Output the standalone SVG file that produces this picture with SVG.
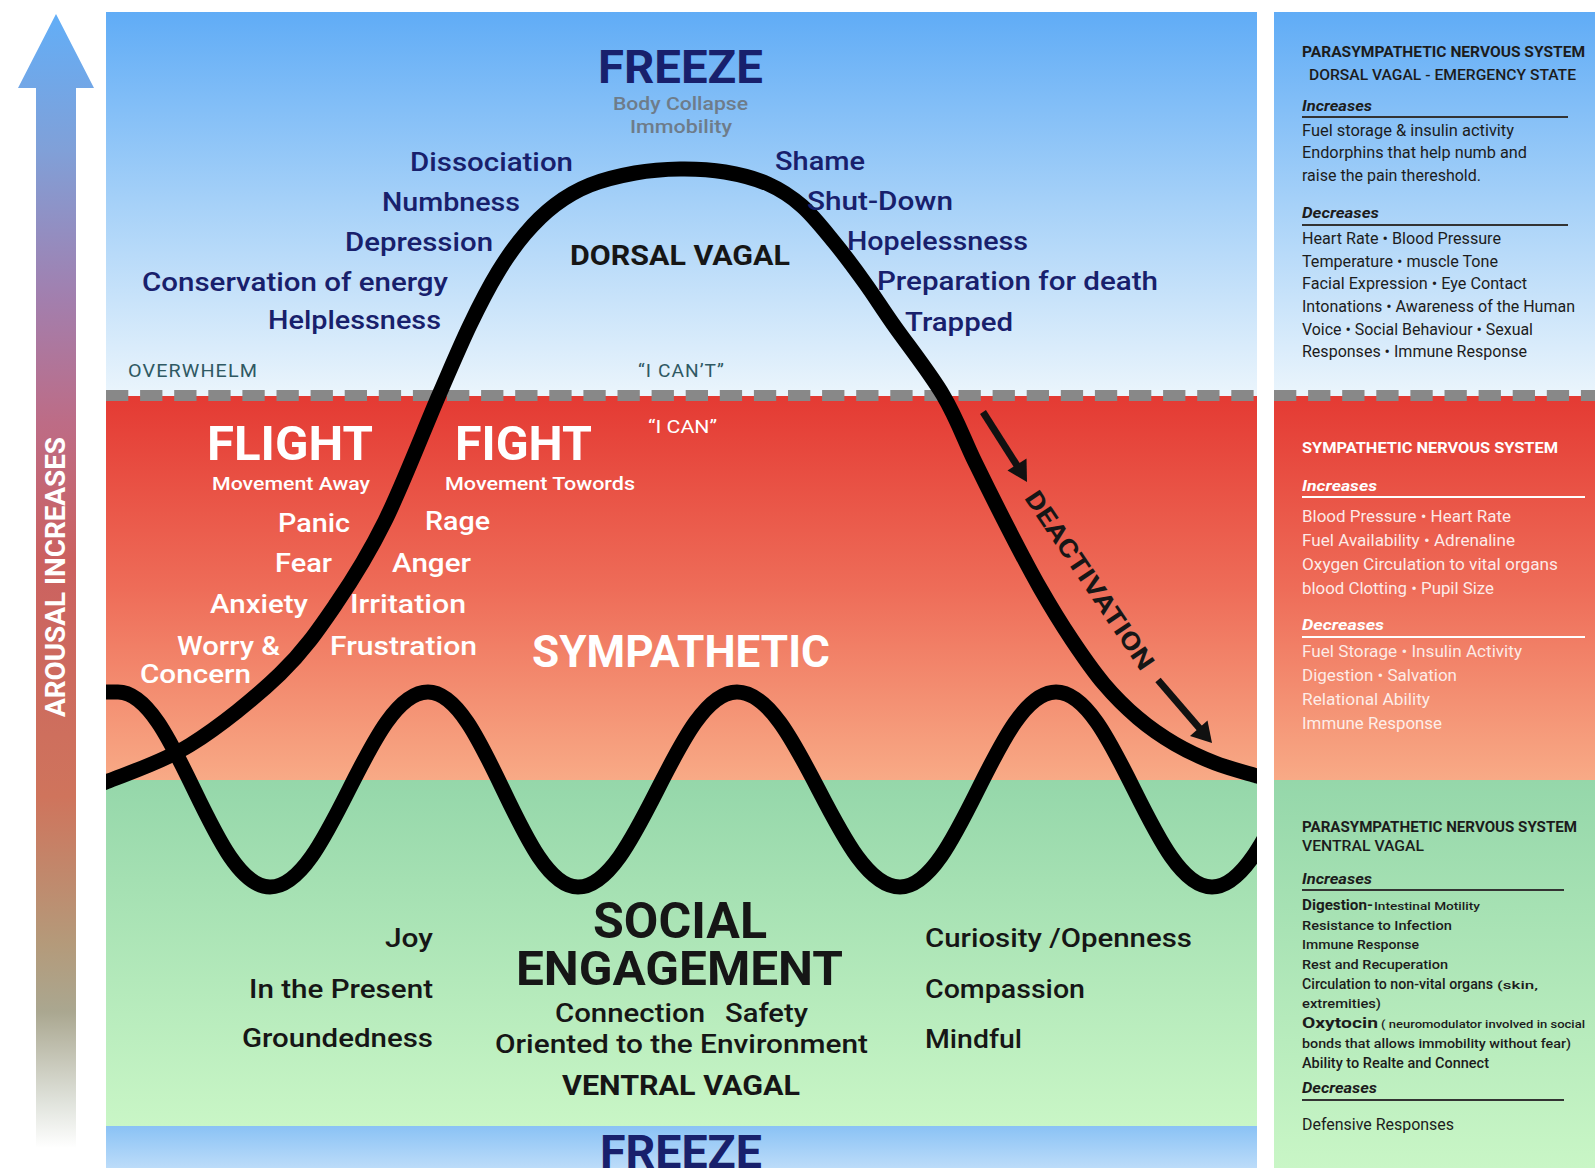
<svg xmlns="http://www.w3.org/2000/svg" width="1595" height="1168" viewBox="0 0 1595 1168">
<defs>
<linearGradient id="gBlue" x1="0" y1="0" x2="0" y2="1"><stop offset="0" stop-color="#60acf6"/><stop offset="0.5" stop-color="#a6d1f8"/><stop offset="1" stop-color="#ebf5fc"/></linearGradient>
<linearGradient id="gRed" x1="0" y1="0" x2="0" y2="1"><stop offset="0" stop-color="#e43a33"/><stop offset="0.5" stop-color="#ee6c58"/><stop offset="1" stop-color="#f8aa86"/></linearGradient>
<linearGradient id="gGreen" x1="0" y1="0" x2="0" y2="1"><stop offset="0" stop-color="#95d7aa"/><stop offset="1" stop-color="#c9f6c6"/></linearGradient>
<linearGradient id="gBlue2" x1="0" y1="0" x2="0" y2="1"><stop offset="0" stop-color="#8ac2f5"/><stop offset="1" stop-color="#bcdcf9"/></linearGradient>
<linearGradient id="gArrow" gradientUnits="userSpaceOnUse" x1="0" y1="14" x2="0" y2="1148">
<stop offset="0" stop-color="#62aef7"/><stop offset="0.12" stop-color="#80a0d8"/><stop offset="0.25" stop-color="#a27fae"/><stop offset="0.36" stop-color="#bd6c86"/><stop offset="0.48" stop-color="#cb6160"/><stop offset="0.69" stop-color="#cf745c"/><stop offset="0.82" stop-color="#b49a7a"/><stop offset="0.88" stop-color="#aaa790"/><stop offset="0.96" stop-color="#e0e3dc"/><stop offset="1" stop-color="#ffffff"/></linearGradient>
<clipPath id="clipMain"><rect x="106" y="12" width="1151" height="1114"/></clipPath>
<style>
.f{font-family:Roboto,"Liberation Sans",Arial,sans-serif}
.navy{fill:#18206c}
.h1{font-size:46px;font-weight:700}
.lst{font-size:26px;font-weight:500}
.sub{font-size:19px;font-weight:500}
.lbl{font-size:18px;font-weight:400;fill:#2f5963;letter-spacing:1px}
.wh{fill:#ffffff}
.dk{fill:#161616}
.bd{font-weight:700}
.rh{font-size:15px;font-weight:700}
.rm{font-size:15px;font-weight:500}
.ri{font-size:14px;font-weight:700;font-style:italic}
.rt{font-size:16px;font-weight:400}
.rs{font-size:12px;font-weight:500}
.curve{fill:none;stroke:#000;stroke-width:15}
.dash{stroke:#888888;stroke-width:11;stroke-dasharray:22.3 11.8}
</style>
</defs>

<g id="background">
<rect x="0" y="0" width="1595" height="1168" fill="#ffffff"/>
<rect x="106" y="12" width="1151" height="384" fill="url(#gBlue)"/>
<rect x="106" y="396" width="1151" height="384" fill="url(#gRed)"/>
<rect x="106" y="780" width="1151" height="346" fill="url(#gGreen)"/>
<rect x="106" y="1126" width="1151" height="42" fill="url(#gBlue2)"/>
<rect x="1274" y="12" width="321" height="384" fill="url(#gBlue)"/>
<rect x="1274" y="396" width="321" height="384" fill="url(#gRed)"/>
<rect x="1274" y="780" width="321" height="388" fill="url(#gGreen)"/>
<line class="dash" x1="106" y1="395.5" x2="1257" y2="395.5"/>
<line class="dash" x1="1274" y1="395.5" x2="1595" y2="395.5"/>
</g>

<g id="arousal-arrow">
<polygon points="56,14 94,88 76,88 76,1148 36,1148 36,88 18,88" fill="url(#gArrow)"/>
<text class="f bd wh" font-size="27" transform="translate(65,577) rotate(-90)" text-anchor="middle" textLength="280" lengthAdjust="spacingAndGlyphs">AROUSAL INCREASES</text>
</g>

<g id="connectors" clip-path="url(#clipMain)">
<path id="dorsal-curve" class="curve" d="M100,784 L106,782 C120,775.8 161,763 190,745 C219,727 255.7,697.5 280,674 C304.3,650.5 318.5,629.5 336,604 C353.5,578.5 367.8,555.8 385,521 C402.2,486.2 424.8,427.7 439,395 C453.2,362.3 460.2,345.5 470,325 C479.8,304.5 488.8,287.2 498,272 C507.2,256.8 515.5,245.2 525,234 C534.5,222.8 544.2,213.2 555,205 C565.8,196.8 576.7,190.3 590,185 C603.3,179.7 620,175.7 635,173 C650,170.3 665,169.2 680,169 C695,168.8 710.3,169.5 725,172 C739.7,174.5 755.2,178.3 768,184 C780.8,189.7 791,196.3 802,206 C813,215.7 823.5,229.2 834,242 C844.5,254.8 855.2,269.3 865,283 C874.8,296.7 880,305.3 893,324 C906,342.7 929.3,372 943,395 C956.7,418 964.2,439.8 975,462 C985.8,484.2 997.2,507 1008,528 C1018.8,549 1029.3,569.3 1040,588 C1050.7,606.7 1061.3,624 1072,640 C1082.7,656 1093,671 1104,684 C1115,697 1126.2,708 1138,718 C1149.8,728 1162.2,736.5 1175,744 C1187.8,751.5 1201.3,757.7 1215,763 C1228.7,768.3 1250,773.8 1257,776 L1272,779"/>
<path id="ventral-wave" class="curve" d="M96,692 L118,692 C176,692 212,887 270,887 C330,887 368,692 428,692 C485,692 521,887 578,887 C638,887 677,692 737,692 C799,692 838,887 900,887 C959,887 997,692 1056,692 C1115,692 1153,887 1212,887 C1271,887 1309,692 1368,692"/>
<g id="deactivation-arrows" fill="#111" stroke="#111">
<line x1="983" y1="412" x2="1018" y2="467" stroke-width="7"/>
<polygon points="1027,482 1007.5,470.5 1026.5,458.5" stroke="none"/>
<line x1="1158" y1="680" x2="1201" y2="730" stroke-width="7"/>
<polygon points="1212,743 1190,736 1207.5,720.5" stroke="none"/>
</g>
</g>

<g id="freeze">
<text class="f h1 navy" x="598" y="83" textLength="165" lengthAdjust="spacingAndGlyphs">FREEZE</text>
<text class="f sub" fill="#6e7c8a" x="613" y="110" textLength="135" lengthAdjust="spacingAndGlyphs">Body Collapse</text>
<text class="f sub" fill="#6e7c8a" x="630" y="133" textLength="102" lengthAdjust="spacingAndGlyphs">Immobility</text>
</g>

<g id="dorsal-left" class="f lst navy">
<text x="410" y="171" textLength="163" lengthAdjust="spacingAndGlyphs">Dissociation</text>
<text x="382" y="211" textLength="138" lengthAdjust="spacingAndGlyphs">Numbness</text>
<text x="345" y="251" textLength="148" lengthAdjust="spacingAndGlyphs">Depression</text>
<text x="142" y="291" textLength="306" lengthAdjust="spacingAndGlyphs">Conservation of energy</text>
<text x="268" y="329" textLength="173" lengthAdjust="spacingAndGlyphs">Helplessness</text>
</g>

<g id="dorsal-right" class="f lst navy">
<text x="775" y="170" textLength="90" lengthAdjust="spacingAndGlyphs">Shame</text>
<text x="807" y="210" textLength="146" lengthAdjust="spacingAndGlyphs">Shut-Down</text>
<text x="847" y="250" textLength="181" lengthAdjust="spacingAndGlyphs">Hopelessness</text>
<text x="877" y="290" textLength="281" lengthAdjust="spacingAndGlyphs">Preparation for death</text>
<text x="905" y="331" textLength="108" lengthAdjust="spacingAndGlyphs">Trapped</text>
</g>

<g id="dorsal-vagal">
<text class="f bd dk" font-size="27" x="570" y="265" textLength="220" lengthAdjust="spacingAndGlyphs">DORSAL VAGAL</text>
</g>

<g id="threshold-labels" class="f lbl">
<text x="128" y="377" textLength="130" lengthAdjust="spacingAndGlyphs">OVERWHELM</text>
<text x="638" y="377" textLength="87" lengthAdjust="spacingAndGlyphs">“I CAN’T”</text>
</g>

<g id="flight" class="f wh">
<text class="bd" font-size="48" x="207" y="460" textLength="166" lengthAdjust="spacingAndGlyphs">FLIGHT</text>
<text class="sub" x="212" y="490" textLength="158" lengthAdjust="spacingAndGlyphs">Movement Away</text>
<g class="lst">
<text x="278" y="532" textLength="72" lengthAdjust="spacingAndGlyphs">Panic</text>
<text x="275" y="572" textLength="57" lengthAdjust="spacingAndGlyphs">Fear</text>
<text x="210" y="613" textLength="98" lengthAdjust="spacingAndGlyphs">Anxiety</text>
<text x="177" y="655" textLength="103" lengthAdjust="spacingAndGlyphs">Worry &amp;</text>
<text x="140" y="683" textLength="111" lengthAdjust="spacingAndGlyphs">Concern</text>
</g>
</g>

<g id="fight" class="f wh">
<text class="bd" font-size="48" x="455" y="460" textLength="137" lengthAdjust="spacingAndGlyphs">FIGHT</text>
<text class="sub" x="445" y="490" textLength="190" lengthAdjust="spacingAndGlyphs">Movement Towords</text>
<g class="lst">
<text x="425" y="530" textLength="65" lengthAdjust="spacingAndGlyphs">Rage</text>
<text x="392" y="572" textLength="79" lengthAdjust="spacingAndGlyphs">Anger</text>
<text x="350" y="613" textLength="116" lengthAdjust="spacingAndGlyphs">Irritation</text>
<text x="330" y="655" textLength="147" lengthAdjust="spacingAndGlyphs">Frustration</text>
</g>
<text font-size="18" x="648" y="433" textLength="69" lengthAdjust="spacingAndGlyphs">“I CAN”</text>
</g>

<g id="sympathetic">
<text class="f bd wh" font-size="44" x="532" y="667" textLength="298" lengthAdjust="spacingAndGlyphs">SYMPATHETIC</text>
</g>

<g id="deactivation">
<text class="f bd dk" font-size="25" transform="translate(1090,580) rotate(56)" y="9" text-anchor="middle" textLength="210" lengthAdjust="spacingAndGlyphs">DEACTIVATION</text>
</g>

<g id="ventral-left" class="f lst dk">
<text x="385" y="947" textLength="48" lengthAdjust="spacingAndGlyphs">Joy</text>
<text x="249" y="998" textLength="184" lengthAdjust="spacingAndGlyphs">In the Present</text>
<text x="242" y="1047" textLength="191" lengthAdjust="spacingAndGlyphs">Groundedness</text>
</g>

<g id="social-engagement" class="f dk">
<text class="bd" font-size="50" x="593" y="938" textLength="174" lengthAdjust="spacingAndGlyphs">SOCIAL</text>
<text class="bd" font-size="48" x="516" y="985" textLength="327" lengthAdjust="spacingAndGlyphs">ENGAGEMENT</text>
<text font-size="25" font-weight="500" x="555" y="1022" textLength="150" lengthAdjust="spacingAndGlyphs">Connection</text>
<text font-size="25" font-weight="500" x="725" y="1022" textLength="83" lengthAdjust="spacingAndGlyphs">Safety</text>
<text font-size="25" font-weight="500" x="495" y="1053" textLength="373" lengthAdjust="spacingAndGlyphs">Oriented to the Environment</text>
<text class="bd" font-size="27" x="562" y="1095" textLength="238" lengthAdjust="spacingAndGlyphs">VENTRAL VAGAL</text>
</g>

<g id="ventral-right" class="f lst dk">
<text x="925" y="947" textLength="267" lengthAdjust="spacingAndGlyphs">Curiosity /Openness</text>
<text x="925" y="998" textLength="160" lengthAdjust="spacingAndGlyphs">Compassion</text>
<text x="925" y="1048" textLength="97" lengthAdjust="spacingAndGlyphs">Mindful</text>
</g>

<g id="freeze-bottom">
<text class="f h1 navy" x="600" y="1168" textLength="162" lengthAdjust="spacingAndGlyphs">FREEZE</text>
</g>

<g id="panel-dorsal" class="f" fill="#1c1c1c">
<text class="rh" x="1302" y="57" textLength="283" lengthAdjust="spacingAndGlyphs">PARASYMPATHETIC NERVOUS SYSTEM</text>
<text class="rm" x="1309" y="80" textLength="267" lengthAdjust="spacingAndGlyphs">DORSAL VAGAL - EMERGENCY STATE</text>
<text class="ri" x="1302" y="111" textLength="70" lengthAdjust="spacingAndGlyphs">Increases</text>
<line x1="1302" y1="117" x2="1568" y2="117" stroke="#333" stroke-width="2"/>
<text class="rt" x="1302" y="136" textLength="212" lengthAdjust="spacingAndGlyphs">Fuel storage &amp; insulin activity</text>
<text class="rt" x="1302" y="158" textLength="225" lengthAdjust="spacingAndGlyphs">Endorphins that help numb and</text>
<text class="rt" x="1302" y="181" textLength="179" lengthAdjust="spacingAndGlyphs">raise the pain thereshold.</text>
<text class="ri" x="1302" y="218" textLength="77" lengthAdjust="spacingAndGlyphs">Decreases</text>
<line x1="1302" y1="225" x2="1568" y2="225" stroke="#333" stroke-width="2"/>
<text class="rt" x="1302" y="244" textLength="199" lengthAdjust="spacingAndGlyphs">Heart Rate • Blood Pressure</text>
<text class="rt" x="1302" y="267" textLength="196" lengthAdjust="spacingAndGlyphs">Temperature • muscle Tone</text>
<text class="rt" x="1302" y="289" textLength="225" lengthAdjust="spacingAndGlyphs">Facial Expression • Eye Contact</text>
<text class="rt" x="1302" y="312" textLength="273" lengthAdjust="spacingAndGlyphs">Intonations • Awareness of the Human</text>
<text class="rt" x="1302" y="335" textLength="231" lengthAdjust="spacingAndGlyphs">Voice • Social Behaviour • Sexual</text>
<text class="rt" x="1302" y="357" textLength="225" lengthAdjust="spacingAndGlyphs">Responses • Immune Response</text>
</g>

<g id="panel-sympathetic" class="f" fill="#ffffff">
<text class="rh" x="1302" y="453" textLength="256" lengthAdjust="spacingAndGlyphs">SYMPATHETIC NERVOUS SYSTEM</text>
<text class="ri" x="1302" y="491" textLength="75" lengthAdjust="spacingAndGlyphs">Increases</text>
<line x1="1302" y1="497" x2="1585" y2="497" stroke="#ffffff" stroke-width="2"/>
<g fill-opacity="0.88">
<text class="rt" x="1302" y="522" textLength="209" lengthAdjust="spacingAndGlyphs">Blood Pressure • Heart Rate</text>
<text class="rt" x="1302" y="546" textLength="213" lengthAdjust="spacingAndGlyphs">Fuel Availability • Adrenaline</text>
<text class="rt" x="1302" y="570" textLength="256" lengthAdjust="spacingAndGlyphs">Oxygen Circulation to vital organs</text>
<text class="rt" x="1302" y="594" textLength="192" lengthAdjust="spacingAndGlyphs">blood Clotting • Pupil Size</text>
</g>
<text class="ri" x="1302" y="630" textLength="82" lengthAdjust="spacingAndGlyphs">Decreases</text>
<line x1="1302" y1="637" x2="1585" y2="637" stroke="#ffffff" stroke-width="2"/>
<g fill-opacity="0.85">
<text class="rt" x="1302" y="657" textLength="220" lengthAdjust="spacingAndGlyphs">Fuel Storage • Insulin Activity</text>
<text class="rt" x="1302" y="681" textLength="155" lengthAdjust="spacingAndGlyphs">Digestion • Salvation</text>
<text class="rt" x="1302" y="705" textLength="128" lengthAdjust="spacingAndGlyphs">Relational Ability</text>
<text class="rt" x="1302" y="729" textLength="140" lengthAdjust="spacingAndGlyphs">Immune Response</text>
</g>
</g>

<g id="panel-ventral" class="f" fill="#1c1c1c">
<text class="rh" x="1302" y="832" textLength="275" lengthAdjust="spacingAndGlyphs">PARASYMPATHETIC NERVOUS SYSTEM</text>
<text class="rm" x="1302" y="851" textLength="122" lengthAdjust="spacingAndGlyphs">VENTRAL VAGAL</text>
<text class="ri" x="1302" y="884" textLength="70" lengthAdjust="spacingAndGlyphs">Increases</text>
<line x1="1302" y1="890" x2="1564" y2="890" stroke="#333" stroke-width="2"/>
<text y="910"><tspan x="1302" font-size="14" font-weight="700" textLength="71" lengthAdjust="spacingAndGlyphs">Digestion-</tspan><tspan x="1374" font-size="11" font-weight="500" textLength="106" lengthAdjust="spacingAndGlyphs">Intestinal Motility</tspan></text>
<text class="rs" x="1302" y="930" textLength="150" lengthAdjust="spacingAndGlyphs">Resistance to Infection</text>
<text class="rs" x="1302" y="949" textLength="117" lengthAdjust="spacingAndGlyphs">Immune Response</text>
<text class="rs" x="1302" y="969" textLength="146" lengthAdjust="spacingAndGlyphs">Rest and Recuperation</text>
<text y="989"><tspan x="1302" font-size="14" font-weight="500" textLength="191" lengthAdjust="spacingAndGlyphs">Circulation to non-vital organs</tspan><tspan x="1497" font-size="11" font-weight="500" textLength="41" lengthAdjust="spacingAndGlyphs">(skin,</tspan></text>
<text class="rs" x="1302" y="1008" textLength="79" lengthAdjust="spacingAndGlyphs">extremities)</text>
<text y="1028"><tspan x="1302" font-size="14" font-weight="700" textLength="76" lengthAdjust="spacingAndGlyphs">Oxytocin</tspan><tspan x="1381" font-size="11.5" font-weight="500" textLength="204" lengthAdjust="spacingAndGlyphs">( neuromodulator involved in social</tspan></text>
<text class="rs" x="1302" y="1048" textLength="269" lengthAdjust="spacingAndGlyphs">bonds that allows immobility without fear)</text>
<text x="1302" y="1068" font-size="14" font-weight="500" textLength="187" lengthAdjust="spacingAndGlyphs">Ability to Realte and Connect</text>
<text class="ri" x="1302" y="1093" textLength="75" lengthAdjust="spacingAndGlyphs">Decreases</text>
<line x1="1302" y1="1100" x2="1564" y2="1100" stroke="#333" stroke-width="2"/>
<text class="rt" x="1302" y="1130" textLength="152" lengthAdjust="spacingAndGlyphs">Defensive Responses</text>
</g>
</svg>
